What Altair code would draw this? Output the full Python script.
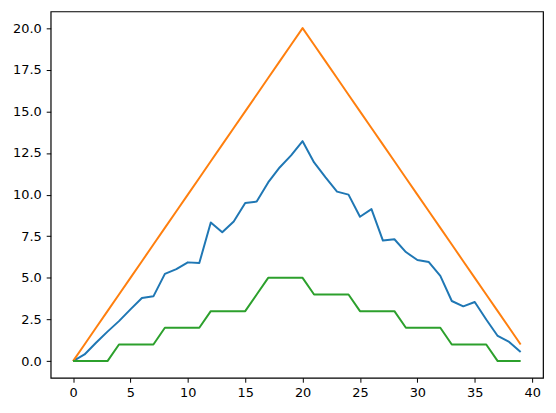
import altair as alt
import pandas as pd

x_vals = list(range(40))
blue = [0.0, 0.4, 1.1, 1.77, 2.4, 3.11, 3.79, 3.89, 5.24, 5.52,
        5.93, 5.89, 8.33, 7.74, 8.39, 9.5, 9.58, 10.73, 11.63, 12.36,
        13.21, 11.93, 11.03, 10.18, 10.0, 8.67, 9.13, 7.24, 7.32, 6.55,
        6.07, 5.95, 5.12, 3.61, 3.29, 3.55, 2.5, 1.51, 1.15, 0.55]
orange = [0, 1, 2, 3, 4, 5, 6, 7, 8, 9,
          10, 11, 12, 13, 14, 15, 16, 17, 18, 19,
          20, 19, 18, 17, 16, 15, 14, 13, 12, 11,
          10, 9, 8, 7, 6, 5, 4, 3, 2, 1]
green = [0, 0, 0, 0, 1, 1, 1, 1, 2, 2,
         2, 2, 3, 3, 3, 3, 4, 5, 5, 5,
         5, 4, 4, 4, 4, 3, 3, 3, 3, 2,
         2, 2, 2, 1, 1, 1, 1, 0, 0, 0]
series_names = ["s1", "s2", "s3"]
series_colors = ["#1f77b4", "#ff7f0e", "#2ca02c"]
x_ticks = [0, 5, 10, 15, 20, 25, 30, 35, 40]
y_ticks = [0.0, 2.5, 5.0, 7.5, 10.0, 12.5, 15.0, 17.5, 20.0]

rows = []
for name, vals in zip(series_names, [blue, orange, green]):
    for xv, yv in zip(x_vals, vals):
        rows.append({"x": xv, "y": yv, "series": name})
df = pd.DataFrame(rows)

font = "DejaVu Sans"
chart = alt.Chart(df).mark_line(strokeWidth=2, strokeJoin="round").encode(
    x=alt.X("x:Q",
            scale=alt.Scale(domain=[-1.95, 40.95], nice=False, zero=False),
            axis=alt.Axis(values=x_ticks, title=None, grid=False, domain=False,
                          tickColor="black", tickSize=4.5, tickWidth=1,
                          labelColor="black", labelFontSize=13, labelFont=font,
                          labelPadding=4, labelFlush=False, format="d")),
    y=alt.Y("y:Q",
            scale=alt.Scale(domain=[-1.0, 21.0], nice=False, zero=False),
            axis=alt.Axis(values=y_ticks, title=None, grid=False, domain=False,
                          tickColor="black", tickSize=4.5, tickWidth=1,
                          labelColor="black", labelFontSize=13, labelFont=font,
                          labelPadding=5, labelFlush=False, format=".1f")),
    color=alt.Color("series:N",
                    scale=alt.Scale(domain=series_names, range=series_colors),
                    legend=None),
    order=alt.Order("x:Q"),
).properties(
    width=496, height=369,
    autosize=alt.AutoSizeParams(type="none"),
    padding={"left": 43, "top": 2, "right": 5, "bottom": 30},
    background="white",
).configure_view(stroke="black", strokeWidth=1.2)

chart.save("out.html", embed_options={"renderer": "svg", "actions": False})
